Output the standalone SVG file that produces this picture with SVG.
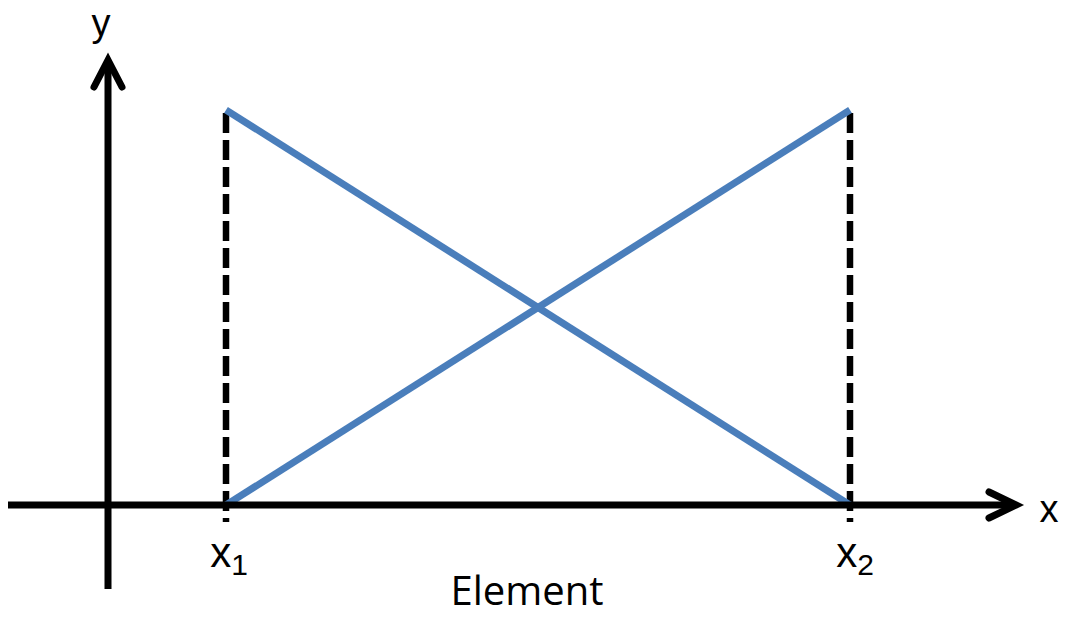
<svg xmlns="http://www.w3.org/2000/svg" width="1066" height="617" viewBox="0 0 1066 617">
<style>
.axis{stroke:#000;stroke-width:7;fill:none}
.head{stroke:#000;stroke-width:7;fill:none;stroke-linecap:round;stroke-linejoin:miter}
.dash{stroke:#000;stroke-width:6.5;stroke-dasharray:20 7;fill:none}
.blue{stroke:#4A7EBB;stroke-width:7;fill:none}
text{font-family:"Liberation Sans",sans-serif;fill:#000}
.el{font-family:"Open Sans","Liberation Sans",sans-serif}
</style>
<rect width="1066" height="617" fill="#fff"/>
<g id="connectors">
<line class="dash" x1="226" y1="113" x2="226" y2="522"/>
<line class="dash" x1="850" y1="113" x2="850" y2="522"/>
<line class="blue" x1="226" y1="110" x2="850" y2="505"/>
<line class="blue" x1="226" y1="505" x2="850" y2="110"/>
<line class="axis" x1="8" y1="505" x2="1014" y2="505"/>
<polyline class="head" points="989,492 1016,505 989,518"/>
<line class="axis" x1="108" y1="589" x2="108" y2="62"/>
<polyline class="head" points="94,87 108,60 122,87"/>
</g>
<g id="labels">
<text x="101" y="36" font-size="38" text-anchor="middle">y</text>
<text x="1049" y="522" font-size="38" text-anchor="middle">x</text>
<text x="229" y="567" font-size="42" text-anchor="middle">x<tspan font-size="30" dy="8">1</tspan></text>
<text x="855" y="567" font-size="42" text-anchor="middle">x<tspan font-size="30" dy="8">2</tspan></text>
<text class="el" x="527" y="605" font-size="40" text-anchor="middle">Element</text>
</g>
</svg>
